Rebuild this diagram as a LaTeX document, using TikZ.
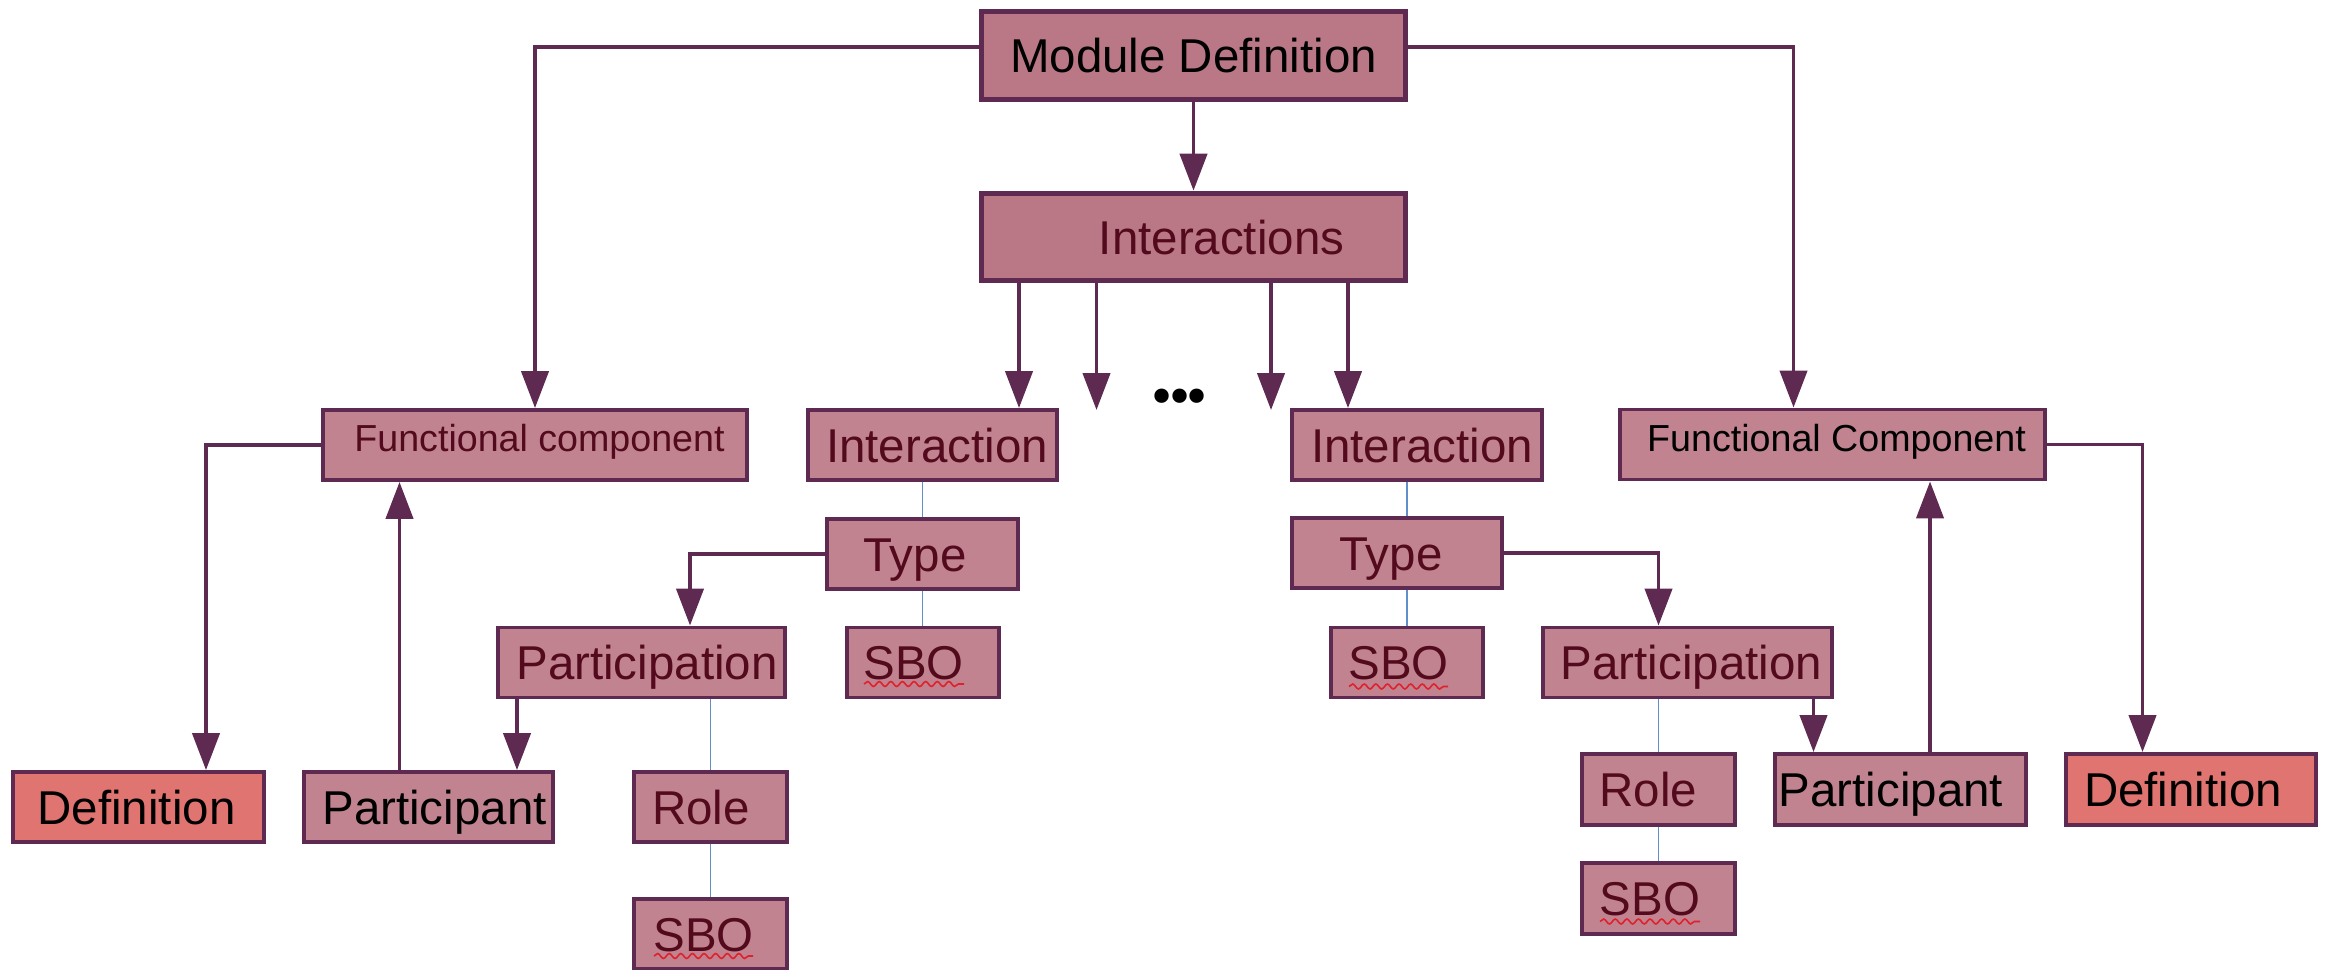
\documentclass[tikz,border=0pt]{standalone}
\usepackage{fontspec}
\setmainfont{Liberation Sans}
\newfontfamily\bulletfont{DejaVu Sans}
\usetikzlibrary{arrows.meta,calc,decorations.pathmorphing}
\definecolor{edge}{HTML}{5E2A52}
\definecolor{boxfill}{HTML}{C1838F}
\definecolor{topfill}{HTML}{BA7886}
\definecolor{deffill}{HTML}{E07470}
\definecolor{maroon}{HTML}{520A1C}
\definecolor{bluelink}{HTML}{6090CC}
\definecolor{wavered}{HTML}{E0202C}
\begin{document}
\begin{tikzpicture}[x=0.01cm,y=-0.01cm,
  base/.style={draw=edge, line width=1.1pt, rectangle, inner sep=0pt, text height=0.34cm, text depth=0pt,
    font=\fontsize{13.5pt}{16pt}\selectfont, minimum height=0.70cm},
  topbox/.style={base, fill=topfill, line width=1.6pt},
  box/.style={base, fill=boxfill, text=maroon},
  defbox/.style={base, fill=deffill, text=black},
  fcbox/.style={base, fill=boxfill, font=\fontsize{10.7pt}{13pt}\selectfont, text height=0.27cm, text depth=0.14cm},
  arr/.style={draw=edge, line width=1.1pt, -{Triangle[length=10.5pt,width=7.7pt]}},
  link/.style={draw=bluelink, line width=0.55pt},
  wavy/.style={draw=wavered, line width=0.45pt, decorate, decoration={snake, amplitude=0.7pt, segment length=3.3pt}}
]
\useasboundingbox (0,0) rectangle (2328,970);

% nodes
\node[topbox, minimum width=4.24cm, minimum height=0.88cm, text=black] (MD) at (1193.5,55.5) {Module Definition};
\node[topbox, minimum width=4.24cm, minimum height=0.87cm, text=maroon] (INTS) at (1193.5,237) {\hspace*{0.56cm}Interactions};
\node[fcbox, minimum width=4.24cm, text=maroon] (FCL) at (535,445) {\hspace*{0.09cm}Functional component};
\node[box, minimum width=2.49cm] (IAL) at (932.5,445) {\hspace*{0.09cm}Interaction};
\node[box, minimum width=2.50cm] (IAR) at (1417,445) {\hspace*{0.10cm}Interaction};
\node[fcbox, minimum width=4.25cm, text=black] (FCR) at (1832.5,444.5) {\hspace*{0.08cm}Functional Component};
\node[box, minimum width=1.91cm] (TYL) at (922.5,554) {Type\hspace*{0.15cm}};
\node[box, minimum width=1.52cm] (SBL1) at (923,662.5) {SBO\hspace*{0.19cm}};
\node[box, minimum width=2.87cm] (PNL) at (641.5,662.5) {\hspace*{0.11cm}Participation};
\node[defbox, minimum width=2.51cm] (DFL) at (138.5,807) {Definition\hspace*{0.04cm}};
\node[box, text=black, minimum width=2.49cm] (PTL) at (428.5,807) {\hspace*{0.12cm}Participant};
\node[box, minimum width=1.53cm] (RLL) at (710.5,807) {Role\hspace*{0.19cm}};
\node[box, minimum width=1.53cm] (SBL2) at (710.5,934) {SBO\hspace*{0.14cm}};
\node[box, minimum width=2.10cm] (TYR) at (1397,553) {Type\hspace*{0.12cm}};
\node[box, minimum width=1.52cm] (SBR1) at (1407,662.5) {SBO\hspace*{0.17cm}};
\node[box, minimum width=2.89cm] (PNR) at (1687.5,662.5) {\hspace*{0.08cm}Participation};
\node[box, minimum width=1.53cm, minimum height=0.71cm] (RLR) at (1658.5,789.5) {Role\hspace*{0.2cm}};
\node[box, minimum width=1.53cm, minimum height=0.71cm] (SBR2) at (1658.5,898.5) {SBO\hspace*{0.17cm}};
\node[box, text=black, minimum width=2.51cm, minimum height=0.71cm] (PTR) at (1900.5,789.5) {Participant\hspace*{0.19cm}};
\node[defbox, minimum width=2.50cm, minimum height=0.71cm] (DFR) at (2191,789.5) {Definition\hspace*{0.16cm}};
\node[font=\bulletfont\fontsize{14pt}{16pt}\selectfont, anchor=base, inner sep=0pt] (dots) at (1179.5,414) {•\kern-3.3pt•\kern-3.3pt•};

% x positions of connectors
\coordinate (i1) at (1019,0);
\coordinate (i2) at (1348,0);
\coordinate (e1) at (1096.5,410);
\coordinate (e2) at (1271,410);
\coordinate (xa) at (517,0);
\coordinate (xb) at (399.5,0);
\coordinate (xd) at (1813.5,0);
\coordinate (xf) at (1930,0);
\coordinate (xg) at (2142.5,0);
\coordinate (xh) at (206,0);
\coordinate (xk) at (690,0);
\coordinate (xm) at (1793.5,0);

% arrows
\draw[arr] (MD) -- (INTS);
\draw[arr] ($(MD.west)+(0,-8.5)$) -| (FCL.north);
\draw[arr] ($(MD.east)+(0,-8.5)$) -| (FCR.north -| xm);
\draw[arr] (INTS.south -| i1) -- (IAL.north -| i1);
\draw[arr] (INTS.south -| e1) -- (e1);
\draw[arr] (INTS.south -| e2) -- (e2);
\draw[arr] (INTS.south -| i2) -- (IAR.north -| i2);
\draw[arr] (TYL.west) -| (PNL.north -| xk);
\draw[arr] (PNL.south -| xa) -- (PTL.north -| xa);
\draw[arr] (PTL.north -| xb) -- (FCL.south -| xb);
\draw[arr] (FCL.west) -| (DFL.north -| xh);
\draw[arr] (TYR.east) -| (PNR.north -| RLR.north);
\draw[arr] (PNR.south -| xd) -- (PTR.north -| xd);
\draw[arr] (PTR.north -| xf) -- (FCR.south -| xf);
\draw[arr] (FCR.east) -| (DFR.north -| xg);

% blue links
\draw[link] (IAL.south -| TYL.north) -- (TYL.north);
\draw[link] (TYL.south) -- (TYL.south |- SBL1.north);
\draw[link] (PNL.south -| RLL.north) -- (RLL.north);
\draw[link] (RLL) -- (SBL2);
\draw[link] (IAR.south -| SBR1.north) -- (TYR.north -| SBR1.north);
\draw[link] (TYR.south -| SBR1.north) -- (SBR1.north);
\draw[link] (PNR.south -| RLR.north) -- (RLR.north);
\draw[link] (RLR) -- (SBR2);

% spell-check waves under SBO
\draw[wavy] ($(SBL1.center)+(-59,21.5)$) -- ++(100,0);
\draw[wavy] ($(SBL2.center)+(-56.5,22)$) -- ++(99,0);
\draw[wavy] ($(SBR1.center)+(-58,24)$) -- ++(99,0);
\draw[wavy] ($(SBR2.center)+(-58.5,23)$) -- ++(100,0);
\end{tikzpicture}
\end{document}
